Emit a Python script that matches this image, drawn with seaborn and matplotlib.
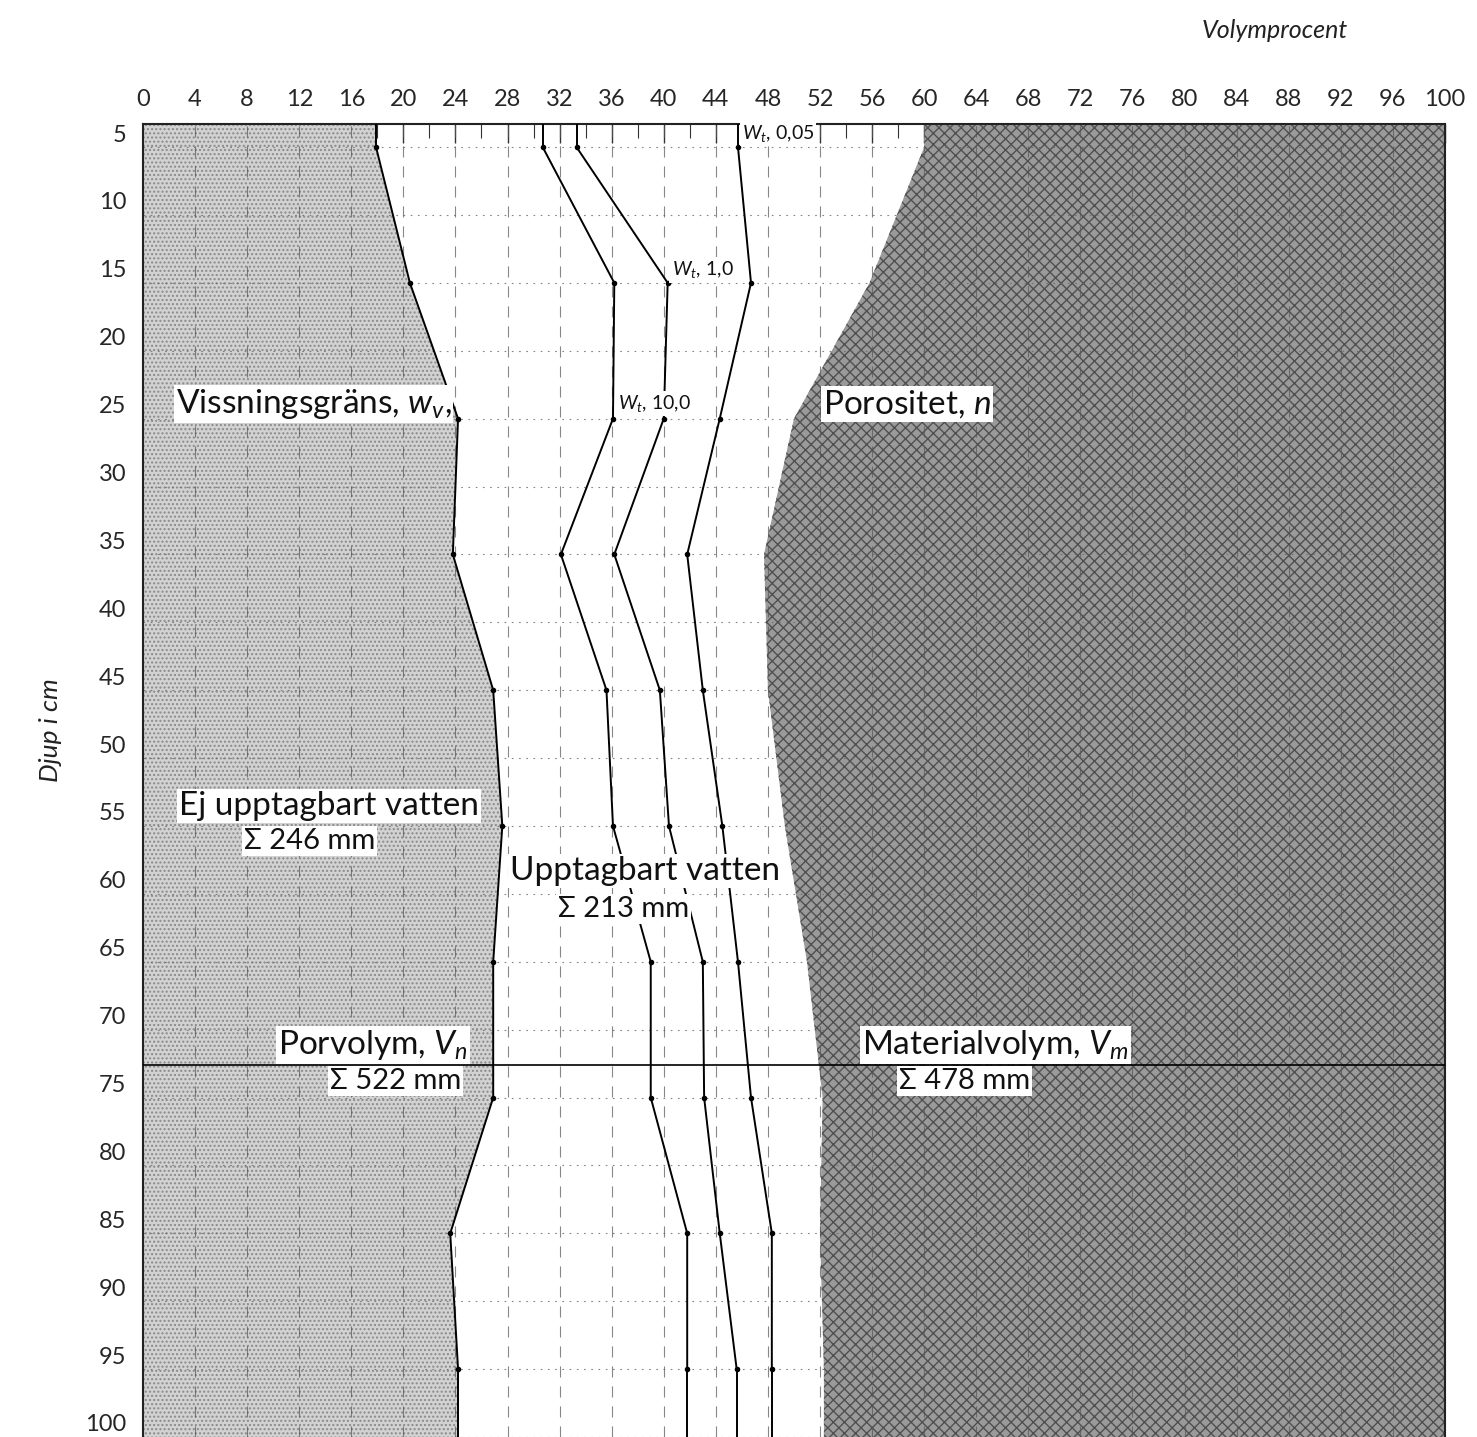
import matplotlib
matplotlib.use("Agg")
import matplotlib.pyplot as plt
import matplotlib.transforms as mtransforms
import pandas as pd
import seaborn as sns

# Soil profile: sampling depths (cm) and volume percentages
depth = [5, 15, 25, 35, 45, 55, 65, 75, 85, 95]
wilting = [17.9, 20.5, 24.2, 23.8, 26.9, 27.6, 26.9, 26.9, 23.6, 24.2]
wt_10 = [30.7, 36.2, 36.1, 32.1, 35.6, 36.1, 39.0, 39.0, 41.8, 41.8]
wt_1 = [33.3, 40.3, 40.0, 36.2, 39.7, 40.4, 43.0, 43.1, 44.3, 45.6]
wt_005 = [45.7, 46.7, 44.3, 41.8, 43.0, 44.5, 45.7, 46.7, 48.3, 48.3]
porosity = [60.0, 55.8, 50.0, 47.7, 48.0, 49.3, 51.0, 52.2, 52.0, 52.3]

x_ticks = list(range(0, 101, 4))
y_ticks = list(range(5, 101, 5))
layer_depth = 72.6
depth_top, depth_bottom = 3.3, 100

sns.set_theme(style="white")
plt.rcParams["font.family"] = ["Lato", "DejaVu Sans"]
plt.rcParams["mathtext.fontset"] = "custom"
plt.rcParams["mathtext.rm"] = "Lato"
plt.rcParams["mathtext.it"] = "Lato:italic"
plt.rcParams["hatch.linewidth"] = 1.0

fig = plt.figure(figsize=(14.77, 14.37), dpi=100)
ax = fig.add_axes([0.0968, 0.0, 0.8815, 0.9137])

# depth axis extended to the frame edges
ext_depth = [depth_top] + depth + [depth_bottom]


def extend(values):
    return [values[0]] + list(values) + [values[-1]]


# non-available water (left) and solid material (right)
ax.fill_betweenx(ext_depth, 0, extend(wilting), facecolor="#d2d2d2",
                 edgecolor="#8a8a8a", hatch="....", linewidth=0, zorder=1)
ax.fill_betweenx(ext_depth, extend(porosity), 100, facecolor="#9a9a9a",
                 edgecolor="#505050", hatch="xxx", linewidth=0, zorder=1)

# grid
for xv in x_ticks:
    ax.axvline(xv, color="#555555", lw=0.8, ls=(0, (10, 8)), alpha=0.7, zorder=1.5)
for yv in y_ticks:
    ax.axhline(yv, color="#666666", lw=0.8, ls=(0, (1.5, 5)), alpha=0.8, zorder=1.5)

# layer boundary
ax.axhline(layer_depth, color="black", lw=1.2, zorder=3)

# moisture curves
curves = {"w_v": wilting, "wt_10": wt_10, "wt_1": wt_1, "wt_005": wt_005}
for name, vals in curves.items():
    df = pd.DataFrame({"depth": depth, "vol": vals})
    sns.lineplot(data=df, x="vol", y="depth", orient="y", sort=False, ax=ax,
                 color="black", lw=1.4, marker="o", markersize=4,
                 markeredgewidth=0, zorder=4)
    ax.plot([vals[0], vals[0]], [depth_top, depth[0]], color="black", lw=1.4, zorder=4)
    ax.plot([vals[-1], vals[-1]], [depth[-1], depth_bottom], color="black", lw=1.4, zorder=4)

ax.set_xlim(0, 100)
ax.set_ylim(depth_bottom, depth_top)
ax.set_xlabel("")
ax.set_ylabel("")

ax.xaxis.tick_top()
ax.set_xticks(x_ticks)
ax.set_xticks(list(range(2, 100, 4)), minor=True)
ax.tick_params(axis="x", which="major", direction="in", length=14, width=1,
               labelsize=17, pad=10, top=True, bottom=False, color="#333333")
ax.tick_params(axis="x", which="minor", direction="in", length=10, width=0.8,
               top=True, bottom=False, color="#333333")
ax.set_yticks(y_ticks)
ax.tick_params(axis="y", which="major", length=0, labelsize=17, pad=12)

offset = mtransforms.ScaledTranslation(0, 0.14, fig.dpi_scale_trans)
for lab in ax.get_yticklabels():
    lab.set_transform(lab.get_transform() + offset)

for side in ["top", "left", "right"]:
    ax.spines[side].set_color("#222222")
    ax.spines[side].set_linewidth(1.5)
ax.spines["bottom"].set_visible(False)

ax.text(0.869, 1.071, "Volymprocent", transform=ax.transAxes, fontsize=18,
        style="italic", ha="center", va="center", color="#222222")
ax.text(-0.0714, 0.538, "Djup i cm", transform=ax.transAxes, fontsize=19,
        style="italic", ha="center", va="center", rotation=90, color="#222222")

box = dict(facecolor="white", edgecolor="none", pad=1.5)
big = 24
mid = 21
small = 14
labels = [
    (2.5, 23.9, "Vissningsgräns, $w_v$,", big, "left"),
    (52.2, 23.9, "Porositet, $n$", big, "left"),
    (46.0, 4.0, "$W_t$, 0,05", small, "left"),
    (40.6, 14.05, "$W_t$, 1,0", small, "left"),
    (36.5, 23.9, "$W_t$, 10,0", small, "left"),
    (2.8, 53.5, "Ej upptagbart vatten", big, "left"),
    (12.8, 56.1, "Σ 246 mm", mid, "center"),
    (28.2, 58.3, "Upptagbart vatten", big, "left"),
    (36.9, 61.1, "Σ 213 mm", mid, "center"),
    (10.4, 71.1, "Porvolym, $V_n$", big, "left"),
    (19.4, 73.8, "Σ 522 mm", mid, "center"),
    (55.2, 71.1, "Materialvolym, $V_m$", big, "left"),
    (63.1, 73.8, "Σ 478 mm", mid, "center"),
]
for x, y, s, fs, ha in labels:
    ax.text(x, y, s, fontsize=fs, ha=ha, va="center", color="#111111",
            bbox=box, zorder=5)

fig.savefig("out.png", dpi=100)
